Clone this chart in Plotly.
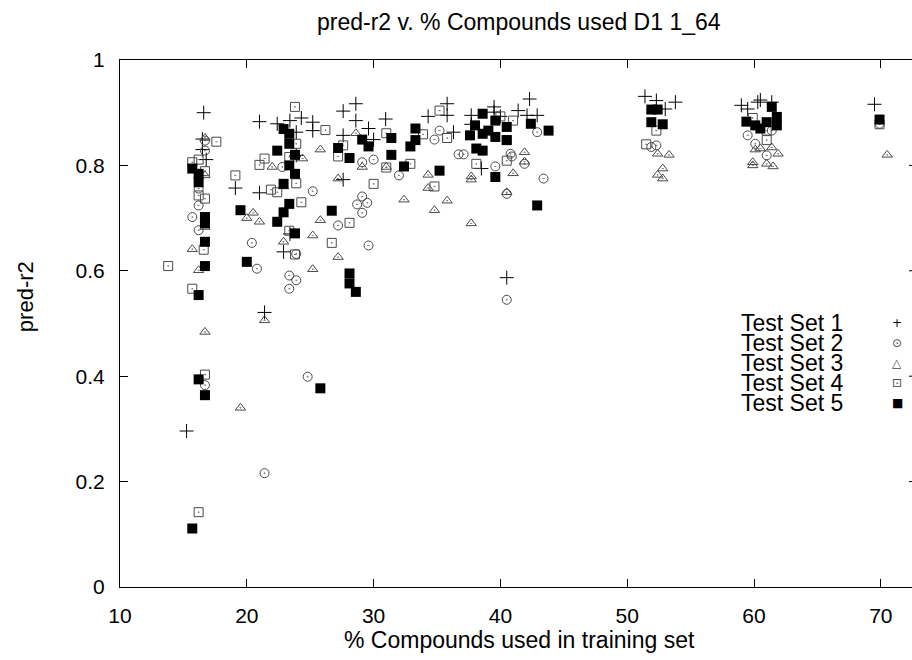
import plotly.graph_objects as go

# ---- data ----
x1 = [15.25, 16.6, 16.5, 16.5, 16.8, 19.1, 21.0, 21.0, 21.4, 22.4, 22.9, 23.4, 23.4, 23.9, 23.9,
      24.3, 25.2, 25.2, 27.6, 27.6, 27.6, 28.6, 28.6, 29.6, 30.0, 30.95, 34.3, 35.8, 35.8, 36.3,
      37.7, 37.7, 38.5, 39.5, 39.5, 40.0, 40.5, 41.4, 42.1, 42.3, 42.9, 51.4, 52.3, 53.0, 53.8,
      59.0, 59.5, 60.3, 60.5, 61.4, 69.5]
y1 = [0.296, 0.900, 0.850, 0.830, 0.811, 0.757, 0.883, 0.748, 0.521, 0.879, 0.636, 0.885, 0.670,
      0.863, 0.819, 0.890, 0.882, 0.866, 0.903, 0.857, 0.773, 0.917, 0.885, 0.870, 0.849, 0.888,
      0.893, 0.917, 0.895, 0.863, 0.895, 0.878, 0.794, 0.911, 0.901, 0.893, 0.587, 0.904, 0.895,
      0.926, 0.895, 0.931, 0.923, 0.907, 0.920, 0.914, 0.907, 0.920, 0.924, 0.920, 0.916]

x2 = [15.7, 16.2, 16.2, 16.2, 16.7, 16.7, 16.7, 20.4, 20.8, 21.4, 22.8, 23.35, 23.35, 23.9, 23.9,
      24.8, 25.2, 27.2, 28.7, 29.1, 29.1, 29.1, 29.5, 29.6, 30.0, 32.0, 34.8, 35.2, 36.7, 37.1,
      39.6, 40.5, 40.5, 40.9, 41.9, 42.9, 43.4, 51.9, 52.3, 59.5, 60.1, 61.0, 61.4, 69.9, 40.8]
y2 = [0.702, 0.756, 0.724, 0.677, 0.847, 0.828, 0.383, 0.653, 0.604, 0.216, 0.797, 0.591, 0.566,
      0.632, 0.582, 0.399, 0.751, 0.686, 0.726, 0.741, 0.710, 0.806, 0.729, 0.648, 0.811, 0.781,
      0.849, 0.866, 0.821, 0.821, 0.798, 0.746, 0.545, 0.817, 0.803, 0.863, 0.775, 0.835, 0.838,
      0.857, 0.841, 0.819, 0.866, 0.879, 0.822]

x3 = [15.7, 16.2, 16.7, 16.7, 16.7, 16.7, 19.5, 20.0, 20.5, 21.0, 21.4, 22.0, 22.9, 22.9, 24.4,
      25.2, 25.2, 25.8, 25.8, 27.2, 27.2, 28.6, 29.1, 31.0, 32.4, 34.3, 34.3, 34.8, 35.8, 37.7,
      37.7, 37.7, 40.5, 41.0, 41.9, 41.9, 52.4, 52.4, 52.8, 53.3, 52.8, 59.9, 59.9, 60.1, 60.5,
      61.0, 61.4, 61.5, 61.9, 70.5]
y3 = [0.641, 0.601, 0.683, 0.781, 0.852, 0.484, 0.340, 0.700, 0.710, 0.693, 0.506, 0.797, 0.655,
      0.760, 0.813, 0.667, 0.603, 0.830, 0.696, 0.626, 0.775, 0.861, 0.797, 0.797, 0.735, 0.782,
      0.757, 0.715, 0.733, 0.779, 0.773, 0.690, 0.749, 0.785, 0.825, 0.807, 0.822, 0.782, 0.794,
      0.820, 0.775, 0.806, 0.800, 0.830, 0.832, 0.803, 0.834, 0.798, 0.822, 0.820]

x4 = [13.8, 15.7, 15.7, 16.2, 16.2, 16.2, 16.7, 16.7, 16.6, 16.7, 17.6, 19.1, 21.0, 21.4, 21.9,
      22.4, 23.35, 23.35, 23.8, 23.8, 23.9, 23.9, 24.3, 26.2, 26.7, 27.2, 27.6, 28.1, 30.0, 31.0,
      31.0, 32.9, 33.9, 34.8, 35.2, 35.8, 38.1, 40.0, 40.5, 40.5, 41.0, 51.5, 52.3, 59.9, 61.0,
      61.0, 69.9]
y4 = [0.609, 0.806, 0.566, 0.811, 0.743, 0.142, 0.789, 0.737, 0.640, 0.403, 0.845, 0.781, 0.801,
      0.813, 0.754, 0.749, 0.816, 0.676, 0.911, 0.631, 0.841, 0.766, 0.730, 0.867, 0.653, 0.817,
      0.838, 0.691, 0.765, 0.861, 0.796, 0.803, 0.859, 0.760, 0.904, 0.852, 0.803, 0.893, 0.809,
      0.848, 0.885, 0.840, 0.866, 0.890, 0.848, 0.866, 0.878]

x5 = [15.7, 15.7, 16.2, 16.2, 16.2, 16.2, 16.7, 16.7, 16.7, 16.7, 16.7, 19.5, 20.0, 22.4, 22.4,
      22.9, 22.9, 22.9, 23.35, 23.35, 23.35, 23.35, 23.8, 23.8, 23.8, 25.8, 26.7, 27.2, 28.1,
      28.1, 28.1, 28.6, 29.1, 29.6, 31.4, 31.4, 32.4, 32.9, 33.3, 33.3, 35.2, 37.6, 38.0, 38.1,
      38.6, 38.6, 38.6, 39.05, 39.6, 39.6, 39.6, 40.5, 40.5, 42.4, 42.9, 43.8, 51.9, 52.4, 51.9,
      52.8, 59.4, 60.1, 60.5, 61.0, 61.4, 61.8, 61.8, 69.9]
y5 = [0.794, 0.111, 0.784, 0.768, 0.554, 0.394, 0.702, 0.690, 0.655, 0.609, 0.364, 0.715, 0.617,
      0.828, 0.693, 0.869, 0.765, 0.711, 0.860, 0.841, 0.800, 0.727, 0.820, 0.784, 0.671, 0.377,
      0.714, 0.833, 0.814, 0.595, 0.576, 0.560, 0.849, 0.836, 0.852, 0.820, 0.798, 0.836, 0.848,
      0.870, 0.790, 0.857, 0.876, 0.832, 0.898, 0.860, 0.828, 0.866, 0.885, 0.854, 0.778, 0.873,
      0.848, 0.879, 0.724, 0.866, 0.906, 0.906, 0.882, 0.878, 0.883, 0.876, 0.870, 0.882, 0.911,
      0.892, 0.876, 0.887]

series_names = ["Test Set 1", "Test Set 2", "Test Set 3", "Test Set 4", "Test Set 5"]
legend_glyphs = ["+", "\u2299", "\u25b3", "\u22a1", "\u25a0"]
x_ticks = [10, 20, 30, 40, 50, 60, 70]
y_ticks = [0, 0.2, 0.4, 0.6, 0.8, 1]
y_tick_text = ["0", "0.2", "0.4", "0.6", "0.8", "1"]

FONT = "Liberation Sans, Arial, Helvetica, sans-serif"
GREY = "#4a4a4a"

fig = go.Figure()
styles = [
    dict(symbol="cross-thin-open", size=10, color="black", line=dict(color="black", width=1)),
    dict(symbol="circle-open-dot", size=9, color=GREY, line=dict(color=GREY, width=1)),
    dict(symbol="triangle-up-open-dot", size=9, color=GREY, line=dict(color=GREY, width=1)),
    dict(symbol="square-open-dot", size=9, color=GREY, line=dict(color=GREY, width=1)),
    dict(symbol="square", size=10, color="black", line=dict(color="black", width=0)),
]
for xs, ys, name, st in zip([x1, x2, x3, x4, x5], [y1, y2, y3, y4, y5], series_names, styles):
    fig.add_trace(go.Scatter(x=xs, y=ys, mode="markers", name=name, marker=st,
                             showlegend=False, cliponaxis=True))

fig.update_layout(
    width=912, height=660,
    margin=dict(l=120, r=0, t=60, b=73),
    paper_bgcolor="white", plot_bgcolor="white",
    font=dict(family=FONT, color="black"),
    showlegend=False,
    xaxis=dict(range=[10, 72.46], tickvals=x_ticks, ticks="inside", ticklen=8,
               tickcolor="black", showline=True, linecolor="black", linewidth=1,
               mirror="ticks", showgrid=False, zeroline=False,
               tickfont=dict(size=21, family=FONT), ticklabelstandoff=10),
    yaxis=dict(range=[0, 1], tickvals=y_ticks, ticktext=y_tick_text, ticks="inside", ticklen=8,
               tickcolor="black", showline=True, linecolor="black", linewidth=1,
               showgrid=False, zeroline=False,
               tickfont=dict(size=21, family=FONT), ticklabelstandoff=10),
)

# short mirrored y ticks at the right edge (the right border itself lies just outside the page)
for v in y_ticks[1:-1]:
    fig.add_shape(type="line", xref="paper", yref="y", x0=(909 - 120) / 792, x1=1.0,
                  y0=v, y1=v, line=dict(color="black", width=1))

anns = [
    dict(text="pred-r2 v. % Compounds used D1 1_64", xref="paper", yref="paper",
         x=0.504, y=1 + 38 / 527, xanchor="center", yanchor="middle", showarrow=False,
         font=dict(size=23, family=FONT)),
    dict(text="% Compounds used in training set", xref="paper", yref="paper",
         x=0.504, y=-53 / 527, xanchor="center", yanchor="middle", showarrow=False,
         font=dict(size=23, family=FONT)),
    dict(text="pred-r2", xref="paper", yref="paper", x=-95 / 792, y=0.55,
         xanchor="center", yanchor="middle", textangle=-90, showarrow=False,
         font=dict(size=22, family=FONT)),
]
row_y = [322.5, 343, 363, 383, 403]
for name, g, py in zip(series_names, legend_glyphs, row_y):
    yp = (587 - py) / 527
    anns.append(dict(text=name, xref="paper", yref="paper", x=(845 - 120) / 792, y=yp,
                     xanchor="right", yanchor="middle", showarrow=False,
                     font=dict(size=23, family=FONT)))
    anns.append(dict(text=g, xref="paper", yref="paper", x=(897 - 120) / 792, y=yp,
                     xanchor="center", yanchor="middle", showarrow=False,
                     font=dict(size=12, family="DejaVu Sans", color=GREY if g not in "+\u25a0" else "black")))
fig.update_layout(annotations=anns)

fig.write_html("out.html")
